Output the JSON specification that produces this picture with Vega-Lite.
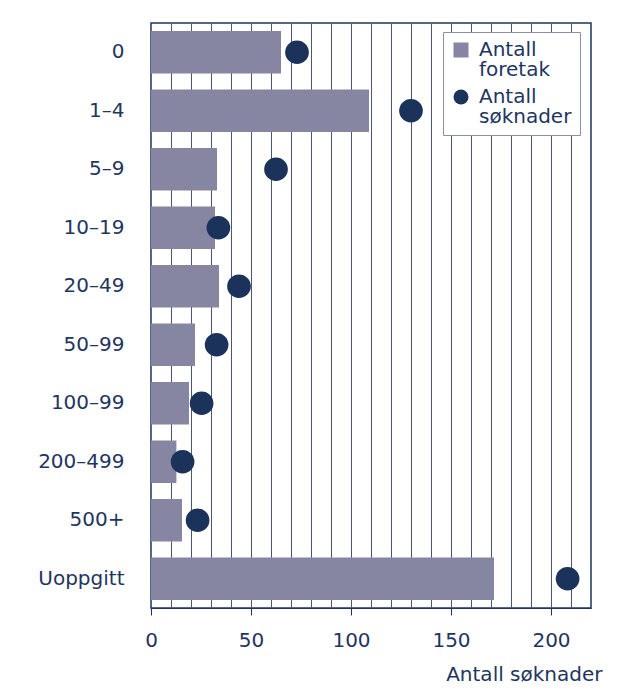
{
  "$schema": "https://vega.github.io/schema/vega-lite/v6.json",
  "autosize": {"type": "none"},
  "padding": {"left": 151, "top": 23, "right": 28, "bottom": 83},
  "width": 440,
  "height": 585,
  "background": "white",
  "config": {
    "font": "DejaVu Sans",
    "view": {"stroke": "#1f3560", "strokeWidth": 1.5},
    "style": {"guide-label": {"lineHeight": 20}}
  },
  "data": {
    "values": [
      {"kategori": "0", "Antall foretak": 65, "Antall søknader": 73},
      {"kategori": "1–4", "Antall foretak": 109, "Antall søknader": 130},
      {"kategori": "5–9", "Antall foretak": 33, "Antall søknader": 62.5},
      {"kategori": "10–19", "Antall foretak": 32, "Antall søknader": 33.7},
      {"kategori": "20–49", "Antall foretak": 34, "Antall søknader": 44},
      {"kategori": "50–99", "Antall foretak": 22, "Antall søknader": 32.8},
      {"kategori": "100–99", "Antall foretak": 19, "Antall søknader": 25.3},
      {"kategori": "200–499", "Antall foretak": 12.7, "Antall søknader": 15.8},
      {"kategori": "500+", "Antall foretak": 15.5, "Antall søknader": 23.3},
      {"kategori": "Uoppgitt", "Antall foretak": 171.5, "Antall søknader": 208.3}
    ]
  },
  "transform": [{"fold": ["Antall foretak", "Antall søknader"], "as": ["serie", "verdi"]}],
  "encoding": {
    "y": {
      "field": "kategori",
      "type": "nominal",
      "sort": ["0", "1–4", "5–9", "10–19", "20–49", "50–99", "100–99", "200–499", "500+", "Uoppgitt"],
      "scale": {"paddingInner": 0.27, "paddingOuter": 0.135},
      "axis": {
        "title": null,
        "ticks": false,
        "domain": false,
        "labelFontSize": 20,
        "labelColor": "#1f3560",
        "labelPadding": 27,
        "labelFont": "DejaVu Sans"
      }
    }
  },
  "layer": [
    {
      "transform": [{"filter": "datum.serie === 'Antall foretak'"}],
      "mark": {"type": "bar", "color": "#8686a2"},
      "encoding": {
        "x": {
          "field": "verdi",
          "type": "quantitative",
          "scale": {"domain": [0, 220], "nice": false},
          "axis": {
            "orient": "top",
            "values": [10, 20, 30, 40, 50, 60, 70, 80, 90, 100, 110, 120, 130, 140, 150, 160, 170, 180, 190, 200, 210],
            "grid": true,
            "gridColor": "#4a5678",
            "gridWidth": 1,
            "labels": false,
            "ticks": false,
            "domain": false,
            "title": null
          }
        },
        "color": {
          "field": "serie",
          "type": "nominal",
          "scale": {"domain": ["Antall foretak", "Antall søknader"], "range": ["#8686a2", "#1b325a"]},
          "legend": {
            "title": null,
            "orient": "none",
            "legendX": 292,
            "legendY": 9,
            "fillColor": "white",
            "strokeColor": "#8a90a8",
            "padding": 8,
            "labelFontSize": 20,
            "labelColor": "#1f3560",
            "labelFont": "DejaVu Sans",
            "labelExpr": "split(datum.label, ' ')",
            "labelOffset": 8,
            "symbolSize": 225,
            "symbolStrokeWidth": 0,
            "rowPadding": 7
          }
        }
      }
    },
    {
      "transform": [{"filter": "datum.serie === 'Antall søknader'"}],
      "mark": {"type": "point", "filled": true, "size": 560, "opacity": 1},
      "encoding": {
        "x": {
          "field": "verdi",
          "type": "quantitative",
          "axis": {
            "orient": "bottom",
            "values": [0, 50, 100, 150, 200],
            "grid": false,
            "labelFlush": false,
            "tickSize": 7,
            "tickColor": "#1f3560",
            "domainColor": "#1f3560",
            "labelFontSize": 20,
            "labelColor": "#1f3560",
            "labelFont": "DejaVu Sans",
            "labelPadding": 15,
            "title": "Antall søknader",
            "titleFontSize": 20,
            "titleFontWeight": "normal",
            "titleColor": "#1f3560",
            "titleFont": "DejaVu Sans",
            "titleX": 451,
            "titleY": 72,
            "titleAlign": "right",
            "titleBaseline": "alphabetic"
          }
        },
        "color": {"field": "serie", "type": "nominal"},
        "shape": {
          "field": "serie",
          "type": "nominal",
          "scale": {"domain": ["Antall foretak", "Antall søknader"], "range": ["square", "circle"]}
        }
      }
    }
  ],
  "resolve": {"axis": {"x": "independent"}}
}
